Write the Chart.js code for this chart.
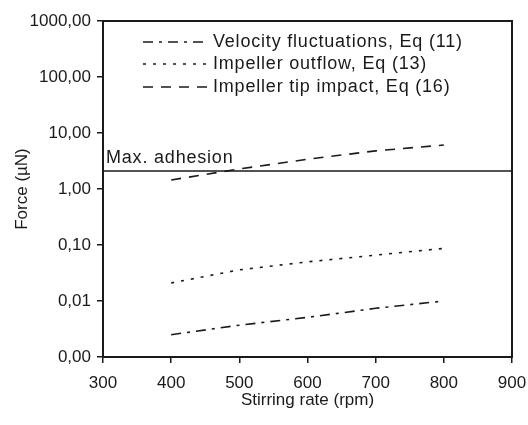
<!DOCTYPE html>
<html>
<head>
<meta charset="utf-8">
<script src="https://cdn.jsdelivr.net/npm/chart.js@4"></script>
<style>
  html, body { margin: 0; padding: 0; background: #fff; }
  #wrap { width: 528px; height: 425px; }
</style>
</head>
<body>
<div id="wrap"><canvas id="myChart"></canvas></div>
<script>
// valores
const rpm = [400, 500, 600, 700, 800];
const velocityFluct = [0.0025, 0.0037, 0.0051, 0.0074, 0.0100];
const impellerOutflow = [0.021, 0.036, 0.050, 0.066, 0.087];
const impellerTip = [1.45, 2.28, 3.4, 4.8, 6.1];
const adhesionX = [300, 900];
const adhesionY = [2.1, 2.1];
const yTicks = [0.001, 0.01, 0.1, 1, 10, 100, 1000];
const seriesNames = ['Velocity fluctuations, Eq (11)', 'Impeller outflow, Eq (13)', 'Impeller tip impact, Eq (16)'];

const ctx = document.getElementById('myChart');
const ink = '#1a1a1a';
const fontFam = '"Liberation Sans", Arial, sans-serif';

function puntos(xs, ys) {
    return xs.map((x, i) => ({ x: x, y: ys[i] }));
}

// leyenda, caja y etiqueta dibujadas a mano
const extras = {
    id: 'extras',
    afterDraw(chart) {
        const c = chart.ctx;
        const a = chart.chartArea;
        c.save();
        // marco
        c.strokeStyle = ink;
        c.lineWidth = 2;
        c.setLineDash([]);
        c.strokeRect(a.left, a.top, a.right - a.left, a.bottom - a.top);

        // Max. adhesion
        const yAd = chart.scales.y.getPixelForValue(adhesionY[0]);
        c.fillStyle = ink;
        c.font = '18px ' + fontFam;
        c.letterSpacing = '0.8px';
        c.textBaseline = 'alphabetic';
        c.fillText('Max. adhesion', a.left + 3, yAd - 8);

        // leyenda
        const rows = [a.top + 21, a.top + 43, a.top + 66];
        for (let i = 0; i < 3; i++) {
            const ds = chart.data.datasets[i];
            c.beginPath();
            c.lineWidth = 1.6;
            c.setLineDash(ds.borderDash);
            c.moveTo(a.left + 40, rows[i]);
            c.lineTo(a.left + 104, rows[i]);
            c.stroke();
            c.setLineDash([]);
            c.textBaseline = 'middle';
            c.fillText(seriesNames[i], a.left + 110, rows[i]);
        }
        c.restore();
    }
};

new Chart(ctx, {
    type: 'line',
    data: {
        datasets: [{
            label: seriesNames[0],
            data: puntos(rpm, velocityFluct),
            borderColor: ink,
            borderWidth: 1.6,
            borderDash: [10, 6, 3, 6],
            pointRadius: 0,
            tension: 0
        }, {
            label: seriesNames[1],
            data: puntos(rpm, impellerOutflow),
            borderColor: ink,
            borderWidth: 1.6,
            borderDash: [3, 7],
            pointRadius: 0,
            tension: 0
        }, {
            label: seriesNames[2],
            data: puntos(rpm, impellerTip),
            borderColor: ink,
            borderWidth: 1.6,
            borderDash: [10, 8],
            pointRadius: 0,
            tension: 0
        }, {
            label: 'Max. adhesion',
            data: puntos(adhesionX, adhesionY),
            borderColor: ink,
            borderWidth: 1.6,
            pointRadius: 0
        }]
    },
    options: {
        responsive: true,
        maintainAspectRatio: false,
        animation: false,
        layout: { padding: { top: 21, right: 16, left: 0, bottom: 0 } },
        plugins: {
            legend: { display: false },
            tooltip: { enabled: false }
        },
        scales: {
            x: {
                type: 'linear',
                min: 300,
                max: 900,
                ticks: { stepSize: 100, color: ink, padding: 10, font: { size: 17, family: fontFam } },
                grid: { drawOnChartArea: false, tickLength: 6, color: ink, lineWidth: 1.5 },
                border: { color: ink, width: 2 },
                title: {
                    display: true,
                    text: 'Stirring rate (rpm)',
                    color: ink,
                    font: { size: 17, family: fontFam },
                    padding: { top: 0, bottom: 14 }
                },
                afterFit(axis) {
                    axis.height = 68;
                    axis.paddingLeft = 0;
                    axis.paddingRight = 0;
                }
            },
            y: {
                type: 'logarithmic',
                min: 0.001,
                max: 1000,
                afterBuildTicks(axis) {
                    axis.ticks = yTicks.map((v) => ({ value: v }));
                },
                ticks: {
                    color: ink,
                    padding: 6,
                    font: { size: 17, family: fontFam },
                    callback: (v) => Number(v).toFixed(2).replace('.', ',')
                },
                grid: { drawOnChartArea: false, tickLength: 6, color: ink, lineWidth: 1.5 },
                border: { color: ink, width: 2 },
                title: {
                    display: true,
                    text: 'Force (µN)',
                    color: ink,
                    font: { size: 17, family: fontFam },
                    padding: { top: 12, bottom: 0 }
                },
                afterFit(axis) {
                    axis.width = 103;
                    axis.paddingTop = 0;
                    axis.paddingBottom = 0;
                }
            }
        }
    },
    plugins: [extras]
});
</script>
</body>
</html>
